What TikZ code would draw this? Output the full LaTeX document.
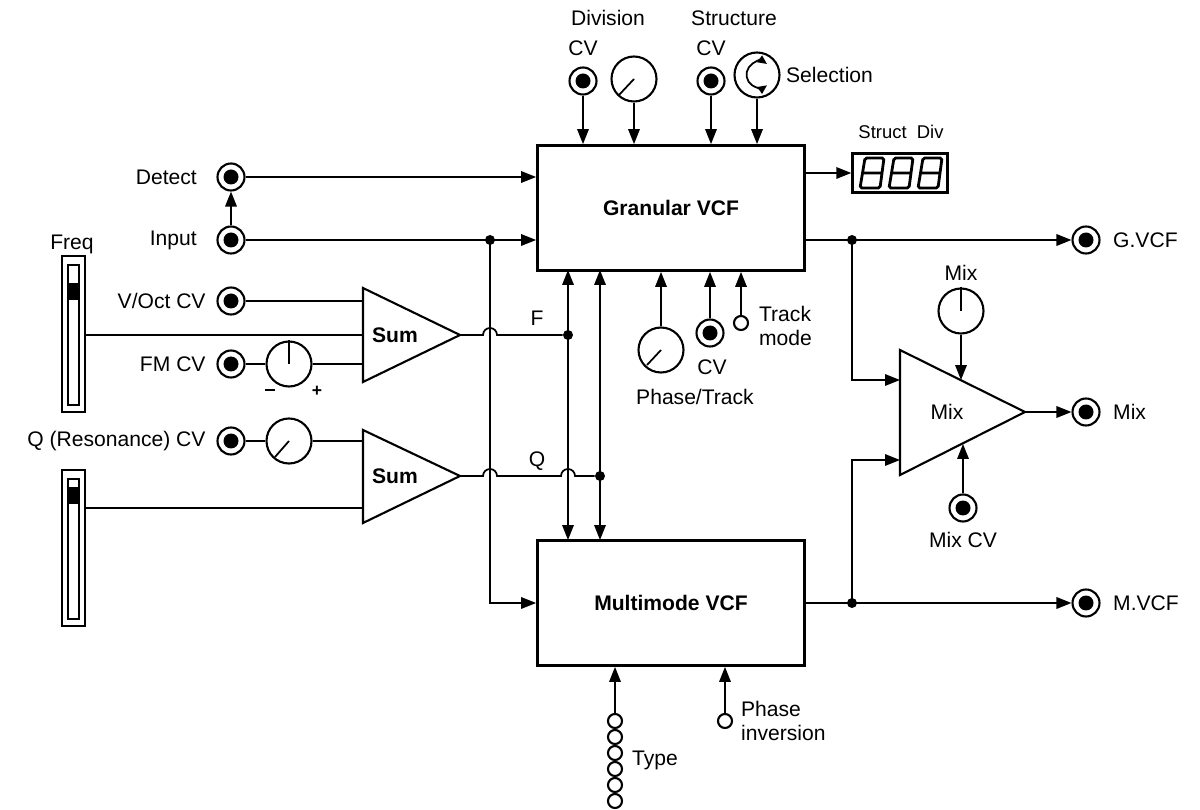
\documentclass[tikz,border=0pt]{standalone}
\usepackage{fontspec}
\setmainfont{Liberation Sans}
\usetikzlibrary{arrows.meta,positioning}
\begin{document}
\begin{tikzpicture}[
   x=0.02cm,y=-0.02cm,
   font=\fontsize{12}{14}\selectfont,
   wire/.style={line width=1pt},
   to/.style={wire,-{Triangle[length=3mm,width=2.3mm]}},
   both/.style={wire,{Triangle[length=3mm,width=2.3mm]}-{Triangle[length=3mm,width=2.3mm]}},
   block/.style={draw,line width=1.6pt,minimum width=5.34cm,minimum height=2.5cm,font=\fontsize{12}{14}\selectfont\bfseries},
   jack/.style={circle,draw,line width=1.2pt,minimum size=5.4mm,inner sep=0pt,
     path picture={\fill (path picture bounding box.center) circle (1.5mm);}},
   knob/.style={circle,draw,line width=1.2pt,minimum size=9mm,inner sep=0pt},
   led/.style={circle,draw,line width=1.2pt,minimum size=2.8mm,inner sep=0pt},
   dot/.style={circle,fill,inner sep=0pt,minimum size=2mm},
   lbl/.style={inner sep=1pt}]
\useasboundingbox (0,0) rectangle (1200,810);
% filter blocks
\node[block] (gran) at (671,208) {Granular VCF};
\node[block] (multi) at (671,603) {Multimode VCF};
% input jacks
\node[jack] (detect) at (231,177) {};
\node[jack] (input) at (231,240) {};
\node[jack] (voct) at (231,301) {};
\node[jack] (fmcv) at (231,364) {};
\node[jack] (qcv) at (231,441) {};
\node[lbl,left=10pt of detect] {Detect};
\node[lbl,left=10pt of input] {Input};
\node[lbl,left=5pt of voct] {V/Oct CV};
\node[lbl,left=5pt of fmcv] {FM CV};
\node[lbl,left=5pt of qcv] {Q (Resonance) CV};
% top controls
\node[jack] (divcv) at (583,81) {};
\node[knob] (divknob) at (634,79) {};
\node[jack] (strcv) at (711,81) {};
\node[knob] (selknob) at (757,75) {};
\node[lbl] at (583,48) {CV};
\node[lbl] at (608,18) {Division};
\node[lbl] at (711,48) {CV};
\node[lbl] at (734,18) {Structure};
\node[lbl,right=2pt of selknob] {Selection};
\draw[wire] (divknob.center) -- (619,95);
\draw[wire,{Triangle[length=1.8mm,width=1.6mm]}-{Triangle[length=1.8mm,width=1.6mm]}] (767,64) arc[start angle=-55,end angle=-305,radius=13];
\foreach \n in {divcv,divknob,strcv,selknob}
  \draw[to] (\n.south) -- (\n.south |- gran.north);
% display
\node[draw,line width=1.4pt,minimum width=1.9cm,minimum height=0.78cm] (disp) at (900,173) {};
\node[lbl,font=\fontsize{10.5}{12}\selectfont] at (901,132) {Struct\ \ Div};
\foreach \dx in {860,889,918}
  \draw[line width=1.6pt,rounded corners=1pt] (\dx+5,158) -- (\dx+24,158) -- (\dx+20,188) -- (\dx,188) -- cycle
    (\dx+2.5,173) -- (\dx+21.5,173);
\draw[to] (gran.east |- disp) -- (disp.west);
% detect / input
\draw[to] (input.north) -- (detect.south);
\draw[to] (detect.east) -- (detect -| gran.west);
\node[dot] (indot) at (490,240) {};
\draw[to] (input.east) -- (input -| gran.west);
% sliders
\foreach \y/\t/\l/\n in {256/283/335/sfreq,470/487/508/sq}{
  \draw[line width=1.2pt] (62,\y) rectangle (85,\y+156);
  \draw[line width=1pt] (68,\y+9) rectangle (79,\y+149);
  \fill (68,\t) rectangle (79,\t+17);
  \coordinate (\n) at (85,\l);
}
\node[lbl] at (72,244) {Freq};
% sum amps
\draw[line width=1.2pt] (363,288) -- (460,335) -- (363,382) -- cycle;
\draw[line width=1.2pt] (363,430) -- (460,476) -- (363,523) -- cycle;
\node[font=\fontsize{12}{14}\selectfont\bfseries] (sum1) at (395,335) {Sum};
\node[font=\fontsize{12}{14}\selectfont\bfseries] (sum2) at (395,476) {Sum};
\coordinate (sumF) at (460,335);
\coordinate (sumQ) at (460,476);
\node[knob] (fmknob) at (289,364) {};
\node[knob] (qknob) at (289,441) {};
\draw[wire] (fmknob.center) -- (fmknob.north);
\draw[wire] (qknob.center) -- (275,457);
\draw[line width=1.6pt] (265,390) -- (275,390);
\node[font=\bfseries] at (317,391) {+};
\draw[wire] (voct.east) -- (363,301);
\draw[wire] (sfreq) -- (363,335);
\draw[wire] (fmcv.east) -- (fmknob.west);
\draw[wire] (fmknob.east) -- (363,364);
\draw[wire] (qcv.east) -- (qknob.west);
\draw[wire] (qknob.east) -- (363,441);
\draw[wire] (sq) -- (363,508);
% F and Q busses
\node[dot] (fdot) at (568,335) {};
\node[dot] (qdot) at (600,476) {};
\draw[wire] (sumF) -- (483,335) arc[start angle=180,end angle=360,radius=7] -- (fdot);
\draw[wire] (sumQ) -- (483,476) arc[start angle=180,end angle=360,radius=7] -- (561,476)
  arc[start angle=180,end angle=360,radius=7] -- (qdot);
\node[lbl] at (537,318) {F};
\node[lbl] at (537,461) {Q};
\draw[both] (568,270) -- (568,540);
\draw[both] (600,270) -- (600,540);
\draw[to] (indot.center) -- (490,603) -- (multi.west);
% phase / track
\node[knob] (ptknob) at (661,350) {};
\node[jack] (ptcv) at (710,333) {};
\node[led] (trackmode) at (741,323) {};
\draw[wire] (ptknob.center) -- (647,365);
\foreach \n in {ptknob,ptcv,trackmode}
  \draw[to] (\n.north) -- (\n.north |- gran.south);
\node[lbl] at (712,367) {CV};
\node[lbl] at (695,397) {Phase/Track};
\node[lbl,align=left,anchor=west] at (757,326) {Track\\mode};
% type / phase inversion
\foreach \i in {1,...,6}
  \node[led] (type\i) at (615,705+16*\i) {};
\node[lbl,anchor=west] at (630,760) {Type};
\draw[to] (type1.north) -- (type1.north |- multi.south);
\node[led] (phaseinv) at (725,721) {};
\draw[to] (phaseinv.north) -- (phaseinv.north |- multi.south);
\node[lbl,align=left,anchor=west] at (739,721) {Phase\\inversion};
% mix section
\draw[line width=1.2pt] (900,350) -- (1025,412) -- (900,475) -- cycle;
\node (mix) at (947,412) {Mix};
\node[knob] (mixknob) at (961,311) {};
\draw[wire] (mixknob.center) -- (mixknob.north);
\node[lbl] at (961,273) {Mix};
\node[jack] (mixcv) at (963,508) {};
\node[lbl] at (963,540) {Mix CV};
\draw[to] (mixknob.south) -- (961,380);
\draw[to] (mixcv.north) -- (963,444);
% outputs
\node[jack] (gout) at (1086,240) {};
\node[jack] (mixout) at (1086,412) {};
\node[jack] (mout) at (1086,603) {};
\node[lbl,right=6pt of gout] {G.VCF};
\node[lbl,right=6pt of mixout] {Mix};
\node[lbl,right=6pt of mout] {M.VCF};
\node[dot] (gdot) at (852,240) {};
\node[dot] (mdot) at (852,603) {};
\draw[to] (gran.east |- gout) -- (gout.west);
\draw[to] (multi.east) -- (mout.west);
\draw[to] (gdot.center) -- (852,380) -- (900,380);
\draw[to] (mdot.center) -- (852,460) -- (900,460);
\draw[to] (1025,412) -- (mixout.west);
\end{tikzpicture}
\end{document}
